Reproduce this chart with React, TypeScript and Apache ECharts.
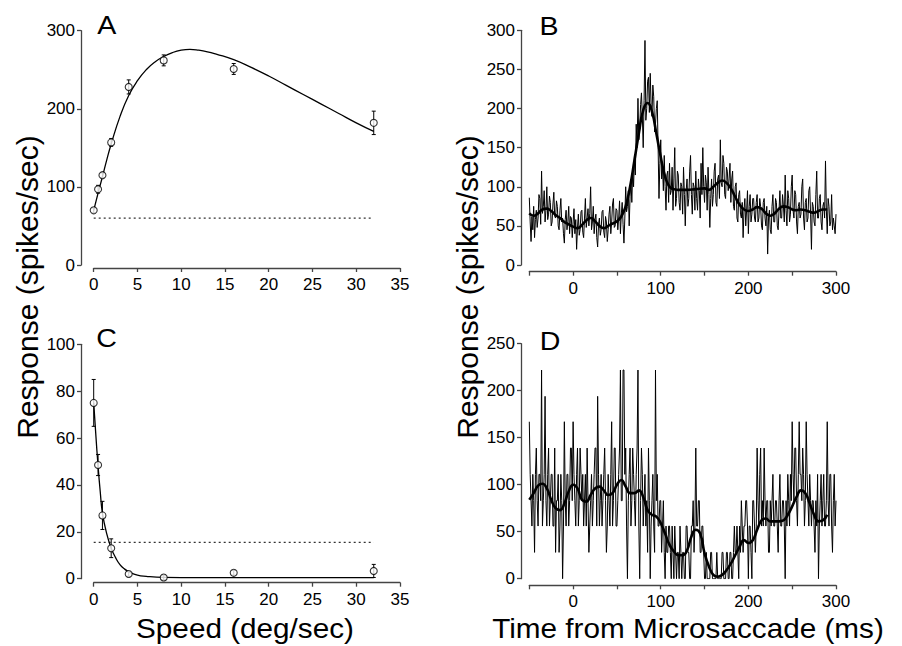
import React, { useEffect, useRef } from "react";
import * as echarts from "echarts";

// ---------- Panel A: speed tuning (excitatory) ----------
const A_SPEED = [0, 0.5, 1, 2, 4, 8, 16, 32];
const A_MEAN = [70, 97, 115, 157, 228, 262, 251, 182];
const A_ERR = [3, 5, 3, 5, 9, 7, 7, 15];
const A_FIT_X = [0, 0.5, 1, 1.5, 2, 3, 4, 5, 6, 7, 8, 9, 10, 11, 12, 13, 14, 16, 18, 20, 22, 24, 26, 28, 30, 32];
const A_FIT_Y = [70, 92, 113, 135, 155, 190, 217, 236, 250, 260, 267, 272, 275, 276, 275, 273, 270, 263, 253, 242, 230, 218, 206, 194, 182, 171];
const A_BASE_X = [0, 32];
const A_BASE_Y = [60, 60];

// ---------- Panel C: speed tuning (suppressed) ----------
const C_SPEED = [0, 0.5, 1, 2, 4, 8, 16, 32];
const C_MEAN = [75, 48.5, 27, 13, 2, 0.5, 2.5, 3.3];
const C_ERR = [10, 4.5, 6, 4, 1, 1, 1, 2.8];
const C_FIT_X = [0, 0.25, 0.5, 0.75, 1, 1.5, 2, 2.5, 3, 3.5, 4, 5, 6, 8, 12, 16, 24, 32];
const C_FIT_Y = [75, 61, 48, 37, 28, 19, 13, 9, 6, 4.2, 3, 1.5, 1, 0.6, 0.5, 0.5, 0.5, 0.5];
const C_BASE_X = [0, 32];
const C_BASE_Y = [15.5, 15.5];

// ---------- Panel B: PSTH (1 ms bins from -50 ms to 300 ms) ----------
const RAW_T0 = -50;
const RAW_STEP = 1;
const B_RAW = [
  86, 55, 30, 62, 45, 75, 35, 58, 70, 48,
  60, 90, 85, 52, 120, 66, 75, 95, 55, 70,
  100, 58, 65, 88, 80, 50, 55, 78, 93, 62,
  60, 82, 75, 50, 45, 70, 85, 55, 60, 40,
  28, 58, 70, 45, 55, 75, 40, 62, 60, 35,
  55, 72, 40, 58, 20, 48, 65, 38, 45, 68,
  70, 42, 35, 60, 85, 48, 60, 72, 50, 66,
  100, 45, 55, 75, 40, 58, 65, 35, 23, 52,
  60, 38, 45, 68, 70, 42, 35, 62, 55, 30,
  45, 65, 75, 40, 55, 78, 85, 48, 50, 72,
  70, 45, 60, 82, 40, 65, 80, 52, 28, 60,
  100, 68, 75, 95, 50, 88, 110, 80, 120, 100,
  140, 115, 180, 150, 213, 160, 175, 205, 220, 190,
  150, 210, 287, 185, 200, 235, 240, 195, 245, 205,
  190, 230, 215, 170, 180, 200, 210, 150, 85, 130,
  160, 110, 125, 95, 140, 100, 70, 115, 120, 80,
  130, 90, 95, 125, 70, 110, 150, 75, 85, 120,
  115, 80, 70, 105, 100, 65, 125, 90, 50, 95,
  110, 75, 85, 120, 140, 90, 65, 105, 100, 70,
  120, 85, 70, 110, 95, 60, 130, 90, 150, 100,
  80, 115, 105, 70, 125, 90, 48, 85, 110, 75,
  90, 120, 130, 80, 75, 110, 115, 85, 160, 105,
  100, 140, 130, 90, 85, 125, 120, 95, 110, 130,
  80, 110, 120, 75, 70, 100, 105, 60, 55, 90,
  95, 65, 60, 80, 35, 70, 85, 50, 70, 95,
  40, 75, 90, 55, 65, 85, 85, 60, 55, 80,
  90, 55, 60, 85, 75, 50, 45, 80, 85, 60,
  50, 75, 14, 60, 70, 45, 40, 75, 90, 55,
  55, 85, 80, 50, 45, 70, 95, 60, 60, 90,
  75, 55, 115, 70, 50, 95, 85, 55, 65, 100,
  115, 70, 60, 95, 90, 55, 40, 75, 80, 60,
  65, 100, 110, 60, 45, 80, 85, 55, 60, 95,
  100, 65, 20, 80, 75, 55, 50, 90, 120, 60,
  60, 85, 90, 55, 45, 75, 80, 60, 133, 70,
  40, 85, 75, 50, 55, 90, 45, 60, 50, 40,
  65,
];
const B_SMOOTH_T = [
  -50, -45, -40, -35, -30, -25, -20, -15, -10, -5, 0, 5, 10, 15, 20, 25, 30, 35, 40, 45,
  50, 55, 60, 65, 70, 75, 80, 85, 90, 95, 100, 105, 110, 115, 120, 130, 140, 150, 155, 160,
  165, 170, 175, 180, 185, 190, 195, 200, 205, 210, 215, 220, 225, 230, 235, 240, 245, 250,
  255, 260, 265, 270, 275, 280, 285, 290,
];
const B_SMOOTH = [
  66, 63, 66, 71, 72, 69, 64, 60, 55, 52, 49, 47, 51, 57, 60, 56, 50, 47, 50, 53,
  56, 62, 75, 100, 134, 168, 198, 207, 196, 168, 138, 113, 100, 97, 96, 96, 97, 98, 96, 100,
  105, 108, 105, 98, 87, 77, 71, 69, 71, 74, 72, 66, 63, 66, 72, 75, 74, 71,
  70, 71, 70, 68, 67, 69, 71, 71,
];

// ---------- Panel D: PSTH (1 ms bins from -50 ms to 300 ms) ----------
const D_RAW = [
  167, 111, 83, 56, 111, 83, 28, 111, 139, 83,
  56, 111, 111, 83, 222, 56, 83, 111, 194, 83,
  56, 111, 139, 56, 83, 111, 111, 56, 56, 139,
  28, 83, 83, 111, 28, 56, 111, 83, 0, 56,
  167, 83, 56, 111, 111, 56, 83, 139, 139, 83,
  167, 111, 83, 56, 111, 139, 56, 83, 139, 111,
  83, 111, 56, 83, 111, 56, 139, 83, 28, 56,
  83, 111, 56, 83, 111, 139, 139, 56, 194, 111,
  56, 83, 111, 56, 83, 111, 139, 83, 28, 56,
  111, 83, 56, 111, 167, 56, 83, 139, 139, 56,
  56, 83, 111, 139, 222, 83, 83, 222, 222, 111,
  139, 56, 0, 83, 111, 139, 56, 83, 139, 111,
  83, 56, 111, 139, 222, 56, 0, 83, 139, 111,
  56, 83, 111, 56, 83, 28, 139, 83, 0, 56,
  83, 111, 56, 28, 222, 83, 111, 56, 56, 83,
  83, 28, 56, 83, 28, 0, 56, 28, 28, 56,
  56, 28, 0, 56, 28, 0, 56, 28, 0, 28,
  28, 0, 56, 28, 0, 28, 28, 0, 0, 56,
  56, 28, 28, 0, 0, 56, 56, 83, 28, 56,
  139, 56, 56, 83, 83, 28, 28, 56, 56, 28,
  0, 0, 28, 0, 0, 0, 0, 28, 28, 0,
  0, 0, 0, 0, 28, 0, 0, 0, 0, 0,
  28, 28, 0, 0, 0, 28, 28, 0, 0, 28,
  28, 0, 0, 28, 56, 28, 28, 56, 28, 0,
  56, 28, 83, 56, 28, 56, 56, 83, 83, 56,
  0, 56, 56, 28, 0, 83, 83, 56, 28, 56,
  139, 83, 56, 111, 139, 56, 83, 56, 139, 83,
  56, 83, 83, 28, 28, 83, 56, 83, 111, 56,
  56, 83, 83, 56, 28, 83, 111, 56, 56, 83,
  83, 56, 0, 83, 56, 111, 83, 56, 111, 83,
  167, 111, 83, 139, 139, 83, 56, 111, 167, 111,
  111, 83, 139, 111, 56, 83, 167, 111, 83, 56,
  111, 83, 56, 83, 83, 56, 28, 83, 56, 111,
  0, 56, 83, 111, 56, 83, 111, 56, 56, 83,
  167, 83, 56, 111, 111, 56, 28, 83, 111, 56,
  83,
];
const SMOOTH_T0 = -50;
const SMOOTH_STEP = 5;
const D_SMOOTH = [
  84, 91, 99, 101, 96, 84, 75, 73, 80, 93,
  100, 96, 84, 82, 89, 96, 98, 94, 89, 91,
  100, 105, 98, 91, 91, 94, 87, 73, 68, 66,
  59, 48, 36, 29, 25, 25, 30, 45, 52, 48,
  27, 13, 4, 2, 4, 9, 16, 25, 34, 41,
  38, 41, 52, 62, 64, 61, 61, 61, 62, 68,
  77, 87, 94, 91, 80, 68, 61, 62, 68,
];

const PANEL_LETTERS = ["A", "B", "C", "D"];
const Y_TITLE = "Response (spikes/sec)";
const X_TITLE_LEFT = "Speed (deg/sec)";
const X_TITLE_RIGHT = "Time from Microsaccade (ms)";

const FONT = "'Liberation Sans', Arial, Helvetica, sans-serif";
const AXIS_COLOR = "#444";

function label(extra: any = {}) {
  return { color: "#000", fontFamily: FONT, fontSize: 17, ...extra };
}

function axisBase(extra: any) {
  return {
    type: "value",
    splitLine: { show: false },
    axisLine: { show: true, onZero: false, lineStyle: { color: AXIS_COLOR, width: 1.3 } },
    axisTick: { show: true, length: 4, lineStyle: { color: AXIS_COLOR, width: 1.3 } },
    ...extra,
  };
}

function errorBarSeries(xi: number, xs: number[], mean: number[], err: number[]) {
  return {
    type: "custom",
    xAxisIndex: xi,
    yAxisIndex: xi,
    z: 3,
    data: xs.map((s, i) => [s, mean[i] - err[i], mean[i] + err[i]]),
    encode: { x: 0, y: [1, 2] },
    renderItem: (params: any, api: any) => {
      const x = api.value(0);
      const p1 = api.coord([x, api.value(1)]);
      const p2 = api.coord([x, api.value(2)]);
      const cap = 2;
      const st = { stroke: "#000", lineWidth: 1 };
      return {
        type: "group",
        children: [
          { type: "line", shape: { x1: p1[0], y1: p1[1], x2: p2[0], y2: p2[1] }, style: st },
          { type: "line", shape: { x1: p1[0] - cap, y1: p1[1], x2: p1[0] + cap, y2: p1[1] }, style: st },
          { type: "line", shape: { x1: p2[0] - cap, y1: p2[1], x2: p2[0] + cap, y2: p2[1] }, style: st },
        ],
      };
    },
  };
}

function tuningSeries(xi: number, xs: number[], mean: number[], err: number[], fx: number[], fy: number[], bx: number[], by: number[]) {
  return [
    {
      type: "line",
      xAxisIndex: xi,
      yAxisIndex: xi,
      data: bx.map((x, i) => [x, by[i]]),
      showSymbol: false,
      lineStyle: { color: "#333", width: 1.2, type: [2, 3] },
      z: 1,
    },
    {
      type: "line",
      xAxisIndex: xi,
      yAxisIndex: xi,
      data: fx.map((x, i) => [x, fy[i]]),
      showSymbol: false,
      smooth: true,
      lineStyle: { color: "#000", width: 1.3 },
      z: 2,
    },
    errorBarSeries(xi, xs, mean, err),
    {
      type: "scatter",
      xAxisIndex: xi,
      yAxisIndex: xi,
      data: xs.map((x, i) => [x, mean[i]]),
      symbol: "circle",
      symbolSize: 7,
      itemStyle: { color: "#fff", borderColor: "#000", borderWidth: 1.1 },
      z: 4,
    },
  ];
}

function psthSeries(xi: number, raw: number[], smoothT: number[], smooth: number[]) {
  return [
    {
      type: "line",
      xAxisIndex: xi,
      yAxisIndex: xi,
      data: raw.map((v, i) => [RAW_T0 + i * RAW_STEP, v]),
      showSymbol: false,
      lineStyle: { color: "#000", width: 1 },
      z: 2,
    },
    {
      type: "line",
      xAxisIndex: xi,
      yAxisIndex: xi,
      data: smooth.map((v, i) => [smoothT[i], v]),
      showSymbol: false,
      smooth: 0.5,
      lineStyle: { color: "#000", width: 2.6 },
      z: 3,
    },
  ];
}

export default function App() {
  const ref = useRef<HTMLDivElement>(null);
  useEffect(() => {
    if (!ref.current) return;
    const chart = echarts.init(ref.current, undefined, { renderer: "svg" });
    const dSmoothT = D_SMOOTH.map((_, i) => SMOOTH_T0 + i * SMOOTH_STEP);
    const timeLabel = (v: number) => (v % 100 === 0 ? String(v) : "");
    const option: any = {
      animation: false,
      backgroundColor: "#fff",
      grid: [
        { left: 93.7, top: 30.7, width: 306.3, height: 234.3 },
        { left: 529.3, top: 30.3, width: 306.7, height: 234.7 },
        { left: 93.7, top: 344.3, width: 306.3, height: 234.4 },
        { left: 529.3, top: 343.7, width: 306.7, height: 235 },
      ],
      xAxis: [
        axisBase({ gridIndex: 0, min: 0, max: 35, interval: 5, offset: 3, axisLabel: label({ margin: 8 }) }),
        axisBase({ gridIndex: 1, min: -50, max: 300, interval: 50, offset: 6.7, axisLabel: label({ margin: 8, formatter: timeLabel }) }),
        axisBase({ gridIndex: 2, min: 0, max: 35, interval: 5, offset: 4, axisLabel: label({ margin: 8 }) }),
        axisBase({ gridIndex: 3, min: -50, max: 300, interval: 50, offset: 6.6, axisLabel: label({ margin: 8, formatter: timeLabel }) }),
      ],
      yAxis: [
        axisBase({ gridIndex: 0, min: 0, max: 300, interval: 100, offset: 12.7, axisLabel: label({ margin: 6 }) }),
        axisBase({ gridIndex: 1, min: 0, max: 300, interval: 50, offset: 8.3, axisLabel: label({ margin: 6 }) }),
        axisBase({ gridIndex: 2, min: 0, max: 100, interval: 20, offset: 12.7, axisLabel: label({ margin: 6 }) }),
        axisBase({ gridIndex: 3, min: 0, max: 250, interval: 50, offset: 8.3, axisLabel: label({ margin: 6 }) }),
      ],
      series: [
        ...tuningSeries(0, A_SPEED, A_MEAN, A_ERR, A_FIT_X, A_FIT_Y, A_BASE_X, A_BASE_Y),
        ...psthSeries(1, B_RAW, B_SMOOTH_T, B_SMOOTH),
        ...tuningSeries(2, C_SPEED, C_MEAN, C_ERR, C_FIT_X, C_FIT_Y, C_BASE_X, C_BASE_Y),
        ...psthSeries(3, D_RAW, dSmoothT, D_SMOOTH),
      ],
      graphic: [
        ...[
          [106.7, 25],
          [549, 26],
          [106.7, 338],
          [550, 341],
        ].map((p, i) => ({
          type: "text",
          x: p[0],
          y: p[1],
          scaleX: 1.1,
          style: {
            text: PANEL_LETTERS[i],
            fill: "#000",
            font: `26px ${FONT}`,
            textAlign: "center",
            textVerticalAlign: "middle",
          },
        })),
        {
          type: "text",
          x: 27,
          y: 287,
          rotation: Math.PI / 2,
          style: { text: Y_TITLE, fill: "#000", font: `30px ${FONT}`, textAlign: "center", textVerticalAlign: "middle" },
        },
        {
          type: "text",
          x: 467,
          y: 287,
          rotation: Math.PI / 2,
          style: { text: Y_TITLE, fill: "#000", font: `30px ${FONT}`, textAlign: "center", textVerticalAlign: "middle" },
        },
        {
          type: "text",
          x: 245,
          y: 628,
          scaleX: 1.1,
          style: { text: X_TITLE_LEFT, fill: "#000", font: `27px ${FONT}`, textAlign: "center", textVerticalAlign: "middle" },
        },
        {
          type: "text",
          x: 688,
          y: 628,
          scaleX: 1.1,
          style: { text: X_TITLE_RIGHT, fill: "#000", font: `27px ${FONT}`, textAlign: "center", textVerticalAlign: "middle" },
        },
      ],
    };
    chart.setOption(option);
    return () => chart.dispose();
  }, []);
  return (
    <div
      ref={ref}
      style={{ position: "fixed", left: 0, top: 0, width: 902, height: 646, background: "#fff" }}
    />
  );
}
